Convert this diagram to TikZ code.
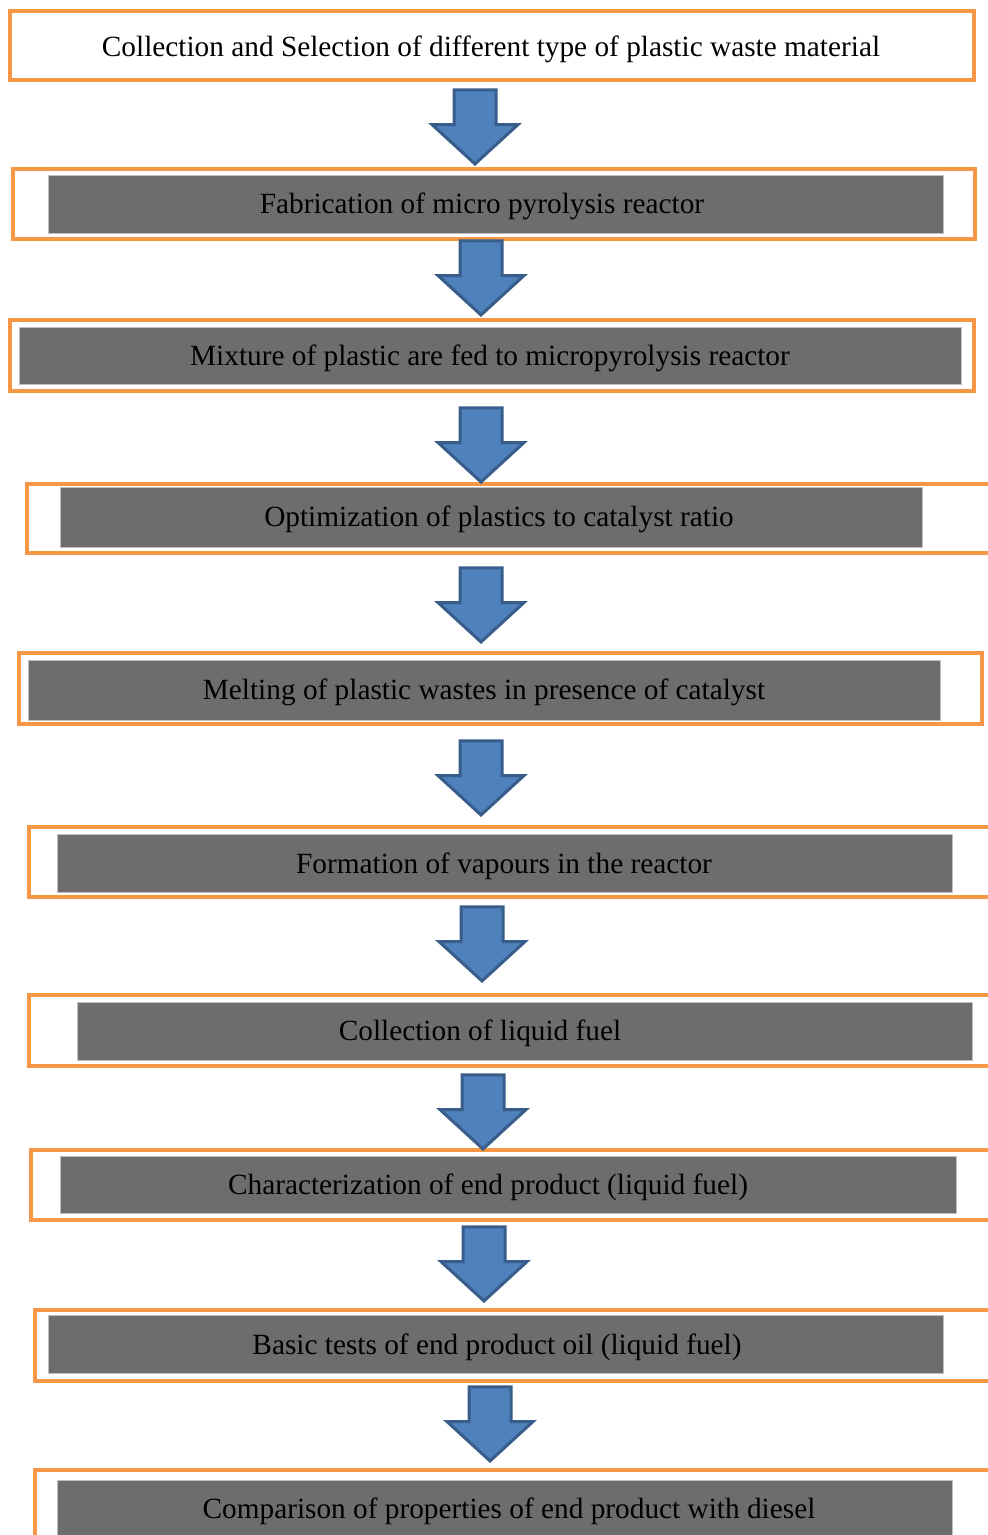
\documentclass[tikz,border=0pt]{standalone}
\usepackage{fontspec}
\setmainfont{Liberation Serif}
\usepackage{tikz}
\usetikzlibrary{shapes.arrows}

\definecolor{frameorange}{HTML}{F79646}
\definecolor{stepgray}{HTML}{6D6D6D}
\definecolor{arrowblue}{HTML}{4F81BD}
\definecolor{arrowedge}{HTML}{385D8A}

\begin{document}
\begin{tikzpicture}[
    x=1pt, y=-1pt,
    frame/.style={draw=frameorange, line width=4.5pt, inner sep=0pt},
    stepfill/.style={fill=stepgray, draw=black!25, line width=1pt, inner sep=0pt},
    steptext/.style={font=\fontsize{29.3}{35}\selectfont, text height=19pt, text depth=6pt, inner sep=0pt, yshift=-4pt},
    flowarrow/.style={single arrow, rotate=-90, anchor=tip, fill=arrowblue, draw=arrowedge,
        line width=3pt, inner sep=0pt, text width=0pt, text height=19.5pt, text depth=19.5pt,
        minimum height=74pt, single arrow head extend=22pt, single arrow tip angle=95}
]
    \clip (0,0) rectangle (988,1535);

    % FRAMES
    \node[frame, minimum width=964pt, minimum height=69pt] (f1) at (492,45.5) {};
    \node[frame, minimum width=962pt, minimum height=70pt] (f2) at (494,204) {};
    \node[frame, minimum width=964pt, minimum height=71pt] (f3) at (492,355.5) {};
    \node[frame, minimum width=973pt, minimum height=69pt] (f4) at (513.5,518.5) {};
    \node[frame, minimum width=963pt, minimum height=71pt] (f5) at (500.5,688.5) {};
    \node[frame, minimum width=971pt, minimum height=70pt] (f6) at (514.5,862) {};
    \node[frame, minimum width=971pt, minimum height=71pt] (f7) at (514.5,1030.5) {};
    \node[frame, minimum width=969pt, minimum height=70pt] (f8) at (515.5,1185) {};
    \node[frame, minimum width=965pt, minimum height=71pt] (f9) at (517.5,1345.5) {};
    \node[frame, minimum width=965pt, minimum height=130pt] (f10) at (517.5,1535) {};

    % GRAY BARS
    \node[stepfill, minimum width=895pt, minimum height=58pt] (g2) at (495.5,204) {};
    \node[stepfill, minimum width=942pt, minimum height=57pt] (g3) at (490,355.5) {};
    \node[stepfill, minimum width=862pt, minimum height=60pt] (g4) at (491,517) {};
    \node[stepfill, minimum width=912pt, minimum height=60pt] (g5) at (484,690) {};
    \node[stepfill, minimum width=895pt, minimum height=58pt] (g6) at (504.5,863) {};
    \node[stepfill, minimum width=895pt, minimum height=58pt] (g7) at (524.5,1031) {};
    \node[stepfill, minimum width=896pt, minimum height=57pt] (g8) at (508,1184.5) {};
    \node[stepfill, minimum width=895pt, minimum height=58pt] (g9) at (495.5,1344) {};
    \node[stepfill, minimum width=895pt, minimum height=120pt] (g10) at (504.5,1540) {};

    % TEXTS
    \node[steptext] (t1) at (491,46) {Collection and Selection of different type of plastic waste material};
    \node[steptext] (t2) at (482,203) {Fabrication of micro pyrolysis reactor};
    \node[steptext] (t3) at (490,355) {Mixture of plastic are fed to micropyrolysis reactor};
    \node[steptext] (t4) at (499,516) {Optimization of plastics to catalyst ratio};
    \node[steptext] (t5) at (484,689) {Melting of plastic wastes in presence of catalyst};
    \node[steptext] (t6) at (504,863) {Formation of vapours in the reactor};
    \node[steptext] (t7) at (480,1030) {Collection of liquid fuel};
    \node[steptext] (t8) at (488,1184) {Characterization of end product (liquid fuel)};
    \node[steptext] (t9) at (497,1344) {Basic tests of end product oil (liquid fuel)};
    \node[steptext] (t10) at (509,1508) {Comparison of properties of end product with diesel};

    % ARROWS
    \node[flowarrow] (a1) at (475,166) {};
    \node[flowarrow] (a2) at (481,317) {};
    \node[flowarrow] (a3) at (481,484) {};
    \node[flowarrow] (a4) at (481,644) {};
    \node[flowarrow] (a5) at (481,817) {};
    \node[flowarrow] (a6) at (482,983) {};
    \node[flowarrow] (a7) at (483,1151) {};
    \node[flowarrow] (a8) at (484,1303) {};
    \node[flowarrow] (a9) at (490,1463) {};
\end{tikzpicture}
\end{document}
